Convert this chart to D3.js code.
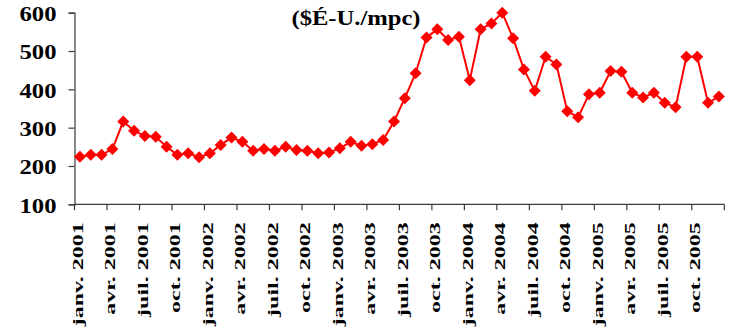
<!DOCTYPE html>
<html>
<head>
<meta charset="utf-8">
<script src="https://cdn.jsdelivr.net/npm/d3@7"></script>
<style>
  html, body { margin: 0; padding: 0; background: #fff; }
  svg { display: block; }
</style>
</head>
<body>
<svg id="chart" width="729" height="333"></svg>
<script>
// Monthly price, Jan 2001 – Dec 2005
const years = [2001, 2002, 2003, 2004, 2005];
const monthNames = ["janv.", "févr.", "mars", "avr.", "mai", "juin", "juil.", "août", "sept.", "oct.", "nov.", "déc."];
const prices2001 = [224, 229, 229, 244, 316, 292, 278, 276, 250, 229, 233, 223];
const prices2002 = [233, 255, 274, 263, 240, 244, 240, 250, 242, 240, 233, 235];
const prices2003 = [246, 263, 253, 257, 268, 316, 377, 442, 535, 557, 529, 537];
const prices2004 = [424, 557, 572, 600, 533, 452, 396, 485, 465, 343, 327, 387];
const prices2005 = [391, 448, 446, 391, 379, 391, 365, 353, 485, 485, 365, 381];
const yTicks = [100, 200, 300, 400, 500, 600];
const unitLabel = "($É-U./mpc)";

const series = [prices2001, prices2002, prices2003, prices2004, prices2005];
const data = [];
years.forEach((yr, i) => {
  series[i].forEach((v, m) => data.push({ key: monthNames[m] + " " + yr, month: m, value: v }));
});

const serif = "Liberation Serif, Tinos, DejaVu Serif, serif";

function draw() {
  const svg = d3.select("#chart");
  svg.selectAll("*").remove();
  const plotLeft = 74.5, plotRight = 724.3, plotTop = 12.7, plotBottom = 204.3;
  const axisColor = "#3a3a3a";

  const x = d3.scaleBand().domain(data.map(d => d.key)).range([plotLeft, plotRight]).padding(0);
  const y = d3.scaleLinear().domain([100, 600]).range([plotBottom, plotTop]);
  const bw = x.bandwidth();

  // Y axis
  const yAxis = d3.axisLeft(y).tickValues(yTicks).tickSize(6).tickPadding(12).tickFormat(d3.format("d"));
  const gy = svg.append("g").attr("transform", `translate(${plotLeft},0)`).call(yAxis);
  gy.attr("font-family", serif).attr("font-size", 22).attr("font-weight", "bold");
  gy.select(".domain").attr("stroke", axisColor).attr("stroke-width", 1.2);
  gy.selectAll(".tick line").attr("stroke", axisColor).attr("stroke-width", 1.2);
  gy.selectAll(".tick text")
    .attr("font-family", serif)
    .attr("font-weight", "bold")
    .attr("font-size", 22)
    .attr("fill", "#000")
    .attr("dy", "0.36em")
    .attr("textLength", 37)
    .attr("lengthAdjust", "spacingAndGlyphs");

  // X axis: boundary ticks every quarter
  const quarterKeys = data.filter((d, i) => i % 3 === 0).map(d => d.key);
  const gx = svg.append("g");
  gx.append("line")
    .attr("x1", plotLeft).attr("x2", plotRight)
    .attr("y1", plotBottom).attr("y2", plotBottom)
    .attr("stroke", axisColor).attr("stroke-width", 1.2);
  const boundaries = quarterKeys.map(k => x(k)).concat([plotRight]);
  gx.selectAll("line.tick").data(boundaries).enter().append("line")
    .attr("class", "tick")
    .attr("x1", d => d).attr("x2", d => d)
    .attr("y1", plotBottom).attr("y2", plotBottom + 6)
    .attr("stroke", axisColor).attr("stroke-width", 1.2);

  // Rotated quarter labels, stretched along the text by one common factor
  const labels = gx.selectAll("text.lbl").data(quarterKeys).enter().append("text")
    .attr("class", "lbl")
    .attr("text-anchor", "end")
    .attr("dominant-baseline", "central")
    .attr("font-family", serif)
    .attr("font-weight", "bold")
    .attr("font-size", 15)
    .attr("fill", "#000")
    .text(d => d);
  const refLength = labels.nodes()[0].getComputedTextLength() || 70;
  const stretch = Math.max(1, Math.min(1.6, 106 / refLength));
  labels.attr("transform", d => `translate(${x(d) + 3},${plotBottom + 18}) rotate(-90) scale(${stretch},1)`);

  // Unit label
  svg.append("text")
    .attr("x", 356).attr("y", 25)
    .attr("text-anchor", "middle")
    .attr("font-family", serif)
    .attr("font-weight", "bold")
    .attr("font-size", 22)
    .attr("fill", "#000")
    .attr("textLength", 129)
    .attr("lengthAdjust", "spacingAndGlyphs")
    .text(unitLabel);

  // Line
  const line = d3.line().x(d => x(d.key) + bw / 2).y(d => y(d.value));
  svg.append("path").datum(data)
    .attr("d", line)
    .attr("fill", "none")
    .attr("stroke", "#ff0000")
    .attr("stroke-width", 2);

  // Diamond markers
  const r = 6;
  svg.append("g").selectAll("path").data(data).enter().append("path")
    .attr("transform", d => `translate(${x(d.key) + bw / 2},${y(d.value)})`)
    .attr("d", `M0,${-r}L${r},0L0,${r}L${-r},0Z`)
    .attr("fill", "#ff0000");
}

draw();
if (document.fonts && document.fonts.load) {
  Promise.all([
    document.fonts.load("bold 15px 'Liberation Serif'"),
    document.fonts.load("bold 22px 'Liberation Serif'")
  ]).then(draw, draw);
}
</script>
</body>
</html>
